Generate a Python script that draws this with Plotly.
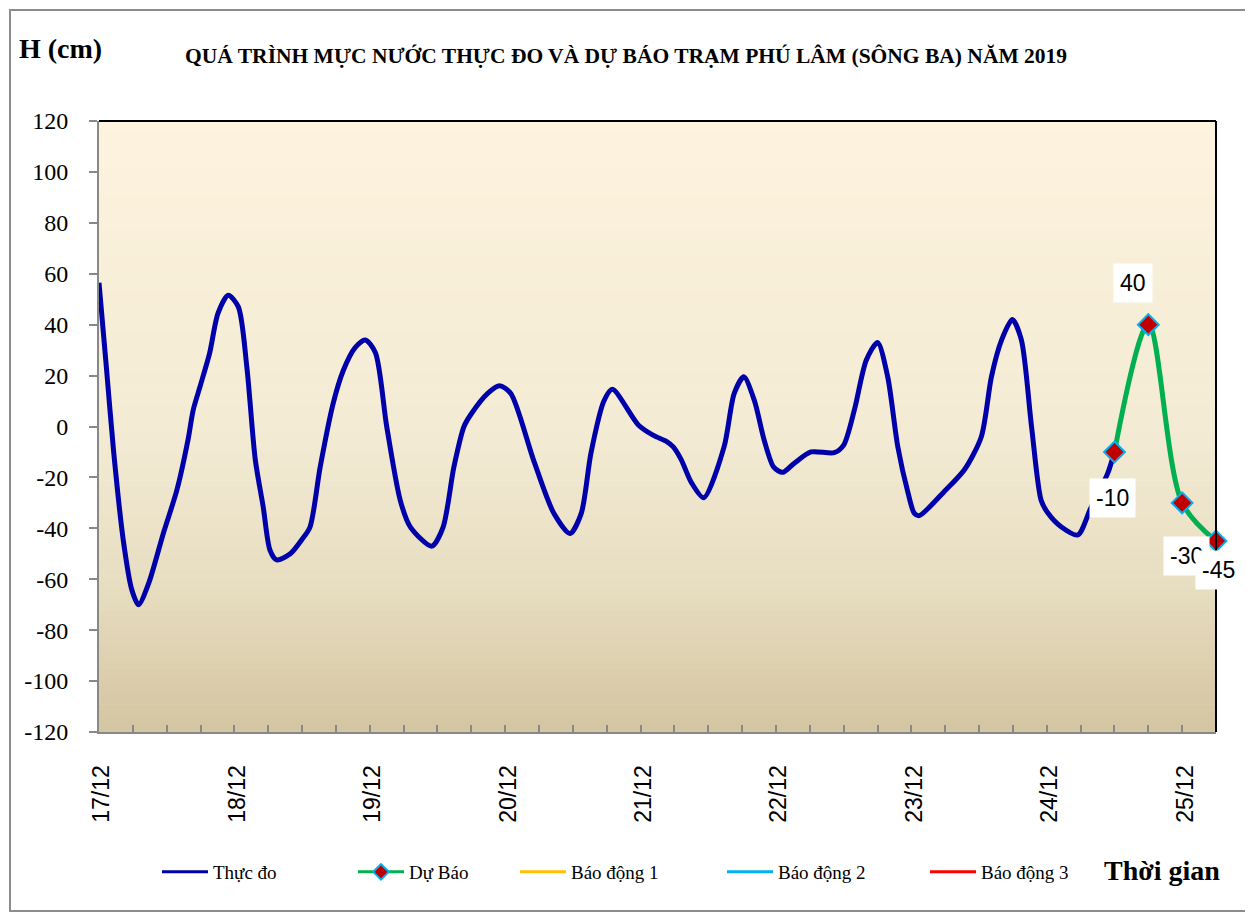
import datetime as dt
import plotly.graph_objects as go

# ---------------- data ----------------
base_time = dt.datetime(2019, 12, 17, 0, 0)

# measured water level (hours since 17/12 00:00, cm)
meas_hours = [0, 1.3, 2.6, 4.3, 5.8, 7, 8.8, 11.4, 13.8, 15.8, 16.7, 17.9, 19.6, 21.1, 22.9,
              24.7, 26.2, 27.7, 29.1, 30.3, 31.5, 33.9, 35.9, 37.4, 39.2, 41.5, 43.3, 45.4,
              47.2, 49, 51, 53.4, 55.2, 59, 61, 62.9, 64.7, 66, 68.9, 71, 73, 77, 80.6,
              83.5, 85.5, 87.2, 89.5, 91, 95.6, 98.2, 100.7, 101.8, 103.2, 105, 107.2,
              110.8, 112.6, 114.3, 116.2, 117.9, 119.6, 121.2, 123.2, 126.2, 130.3, 132,
              133.9, 136, 138, 139.8, 141.6, 143.4, 144.5, 145.4, 149.8, 153.4, 156.4,
              158.2, 160, 161.9, 163.5, 165.3, 167, 168.2, 170.6, 173.5, 175.8, 178.8, 180]
meas_values = [56.5, 23.5, -10, -44.6, -64, -70, -61.6, -42, -25, -5, 6.5, 15.6, 28.7, 44.5, 51.6,
               47, 23.5, -13, -31.5, -48.5, -52.4, -50, -44.6, -39.5, -16, 9, 22, 31,
               34, 29, 0, -29, -39.5, -47, -39.5, -16, 0, 5, 13, 16, 13, -13, -34,
               -42, -34, -10.5, 10, 14.6, 0.6, -3.4, -6, -8, -13, -22, -28,
               -8, 13, 19.5, 10, -5.3, -16, -18, -14.5, -10, -10.3, -7.3,
               6.5, 26, 33, 19.6, -8, -26, -34, -35, -25.6, -17, -4,
               19.6, 34, 42, 34, 0, -29, -34, -39.5, -42.6, -32, -18.4, -10]

# forecast
fc_hours = [180, 186, 192, 198]
fc_values = [-10, 40, -30, -45]
fc_label_offsets = [(-2, 46), (-15, -42), (4, 53), (2, 29)]  # pixel offsets of labels

# alarm levels (outside displayed range)
alarm_names = ["Báo động 1", "Báo động 2", "Báo động 3"]
alarm_levels = [170, 270, 370]
alarm_colors = ["#FFC000", "#00B0F0", "#FF0000"]

series_names = ["Thực đo", "Dự Báo"]
title_text = "QUÁ TRÌNH MỰC NƯỚC THỰC ĐO VÀ DỰ BÁO TRẠM PHÚ LÂM (SÔNG BA) NĂM 2019"
y_ticks = list(range(-120, 121, 20))
y_range = [-120, 120]
x_range_hours = [0, 198]


def to_time(h):
    return base_time + dt.timedelta(hours=h)


meas_x = [to_time(h) for h in meas_hours]
fc_x = [to_time(h) for h in fc_hours]

SERIF = "Liberation Serif"
SANS = "Liberation Sans"

# ---------------- layout geometry (reference pixel frame) ----------------
OFF = 8                       # page body margin
W, H = 1253 - OFF, 917 - OFF
L, R, T, B = 99, 1216, 121, 732
pw, ph = R - L, B - T


def px(xp):
    return (xp - L) / pw


def py(yp):
    return (B - yp) / ph


legend_line_starts = [162, 358, 520, 727, 930]
legend_ids = ["legend", "legend2", "legend3", "legend4", "legend5"]

fig = go.Figure()

fig.add_trace(go.Scatter(
    x=meas_x, y=meas_values, name=series_names[0], mode="lines",
    line=dict(color="#0000AA", width=5, shape="spline", smoothing=0.75),
    legendgroup="g0", showlegend=False,
))
fig.add_trace(go.Scatter(
    x=fc_x, y=fc_values, name=series_names[1], mode="lines+markers",
    line=dict(color="#00B050", width=5, shape="spline", smoothing=0.9),
    marker=dict(symbol="diamond", size=16, color="#C00000",
                line=dict(color="#00B0F0", width=2)),
    cliponaxis=False, legendgroup="g1", showlegend=False,
))
for nm, lvl, col in zip(alarm_names, alarm_levels, alarm_colors):
    fig.add_trace(go.Scatter(
        x=[to_time(x_range_hours[0]), to_time(x_range_hours[1])], y=[lvl, lvl],
        name=nm, mode="lines", line=dict(color=col, width=2.5),
        legendgroup=nm, showlegend=False,
    ))

# legend entries (thin symbols like the reference)
fig.add_trace(go.Scatter(x=[None], y=[None], name=series_names[0], mode="lines",
                         line=dict(color="#0000AA", width=3), legendgroup="g0",
                         legend=legend_ids[0]))
fig.add_trace(go.Scatter(x=[None], y=[None], name=series_names[1], mode="lines+markers",
                         line=dict(color="#00B050", width=3),
                         marker=dict(symbol="diamond", size=12, color="#C00000",
                                     line=dict(color="#00B0F0", width=2)),
                         legendgroup="g1", legend=legend_ids[1]))
for k, (nm, col) in enumerate(zip(alarm_names, alarm_colors)):
    fig.add_trace(go.Scatter(x=[None], y=[None], name=nm, mode="lines",
                             line=dict(color=col, width=3), legendgroup=nm,
                             legend=legend_ids[k + 2]))

# forecast data labels
for xv, yv, (dx, dy) in zip(fc_x, fc_values, fc_label_offsets):
    fig.add_annotation(
        x=xv, y=yv, xref="x", yref="y", text=f"{yv:g}", showarrow=False,
        xshift=dx, yshift=-dy, bgcolor="white", borderpad=6,
        font=dict(family=SANS, size=23, color="black"),
    )

shapes = []
# gradient plot background
stops = [(0.0, (254, 243, 222)), (0.5, (243, 235, 212)), (0.75, (232, 222, 194)), (1.0, (212, 197, 161))]
N = 90
for i in range(N):
    t = (i + 0.5) / N  # 0 = top, 1 = bottom
    for j in range(len(stops) - 1):
        if stops[j][0] <= t <= stops[j + 1][0]:
            a, ca = stops[j]
            b, cb = stops[j + 1]
            f = (t - a) / (b - a)
            c = tuple(int(round(ca[k] + (cb[k] - ca[k]) * f)) for k in range(3))
            break
    shapes.append(dict(type="rect", xref="x domain", yref="y domain",
                       x0=0, x1=1, y0=1 - (i + 1) / N, y1=1 - i / N + 0.001,
                       fillcolor=f"rgb{c}", line=dict(width=0), layer="below"))
# top and right black border of plot area
shapes.append(dict(type="line", xref="x domain", yref="y domain", x0=0, x1=1, y0=1, y1=1,
                   line=dict(color="black", width=2)))
shapes.append(dict(type="line", xref="x domain", yref="y domain", x0=1, x1=1, y0=0, y1=1,
                   line=dict(color="black", width=2)))
# outer border of the whole chart
shapes.append(dict(type="rect", xref="paper", yref="paper",
                   x0=px(OFF + 2), x1=px(1247), y0=py(911), y1=py(OFF + 2),
                   line=dict(color="#8C8C8C", width=2), fillcolor="rgba(0,0,0,0)"))

legend_common = dict(orientation="h", xanchor="left", yanchor="middle",
                     font=dict(family=SERIF, size=19, color="black"),
                     itemwidth=46, bgcolor="rgba(0,0,0,0)")
legends = {}
for lid, xs in zip(legend_ids, legend_line_starts):
    legends[lid] = dict(legend_common, x=px(xs - 5), y=py(872))

fig.update_layout(
    width=W, height=H,
    margin=dict(l=L - OFF, r=W - (R - OFF), t=T - OFF, b=H - (B - OFF), pad=0),
    paper_bgcolor="white", plot_bgcolor="rgba(0,0,0,0)",
    shapes=shapes,
    showlegend=True,
    xaxis=dict(
        type="date",
        range=[to_time(x_range_hours[0]), to_time(x_range_hours[1])],
        tick0=base_time, dtick=86400000, tickformat="%d/%m", tickangle=-90,
        ticks="inside", ticklen=7, tickcolor="#888888", tickwidth=1.5,
        minor=dict(dtick=6 * 3600000, ticks="inside", ticklen=7, tickcolor="#888888",
                   tickwidth=1.5, showgrid=False),
        showline=True, linecolor="#888888", linewidth=2,
        showgrid=False, zeroline=False,
        tickfont=dict(family=SANS, size=23, color="black"),
        ticklabelstandoff=22, ticklabelshift=3,
    ),
    yaxis=dict(
        range=y_range, tickmode="array", tickvals=y_ticks,
        ticktext=[str(v) for v in y_ticks],
        ticks="outside", ticklen=8, tickcolor="#888888", tickwidth=1.5,
        showline=True, linecolor="#888888", linewidth=2,
        showgrid=False, zeroline=False,
        tickfont=dict(family=SERIF, size=24, color="black"),
        ticklabelstandoff=16,
    ),
    **legends,
)

fig.add_annotation(text="<b>H (cm)</b>", xref="paper", yref="paper", x=px(60), y=py(48),
                   xanchor="center", yanchor="middle",
                   showarrow=False, font=dict(family=SERIF, size=28, color="black"))
fig.add_annotation(text=f"<b>{title_text}</b>", xref="paper", yref="paper", x=px(626), y=py(56),
                   xanchor="center", yanchor="middle",
                   showarrow=False, font=dict(family=SERIF, size=21.5, color="black"))
fig.add_annotation(text="<b>Thời gian</b>", xref="paper", yref="paper", x=px(1162), y=py(870),
                   xanchor="center", yanchor="middle",
                   showarrow=False, font=dict(family=SERIF, size=28, color="black"))

fig.write_html("out.html")
